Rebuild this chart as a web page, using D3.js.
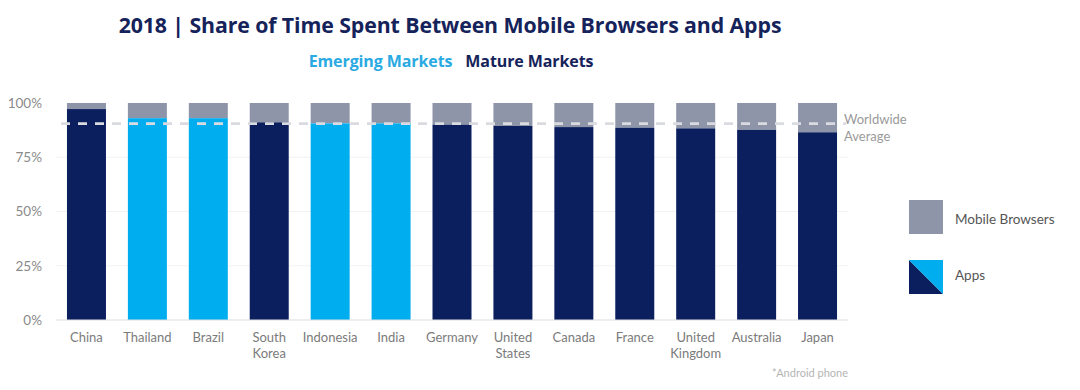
<!DOCTYPE html>
<html><head><meta charset="utf-8">
<script src="https://cdn.jsdelivr.net/npm/d3@7"></script>
<style>body{margin:0;background:#fff;}svg{display:block;font-family:Lato,"Open Sans",sans-serif;}</style>
</head><body><svg id="c" width="1080" height="390"></svg>
<script>
const categories = ["China","Thailand","Brazil","South Korea","Indonesia","India","Germany","United States","Canada","France","United Kingdom","Australia","Japan"];
const categoryLines = [["China"],["Thailand"],["Brazil"],["South","Korea"],["Indonesia"],["India"],["Germany"],["United","States"],["Canada"],["France"],["United","Kingdom"],["Australia"],["Japan"]];
const appsShare = [97.2, 93.0, 93.0, 91.1, 90.6, 90.6, 90.0, 89.4, 88.9, 88.6, 88.3, 87.6, 86.5];
const browserShare = [2.8, 7.0, 7.0, 8.9, 9.4, 9.4, 10.0, 10.6, 11.1, 11.4, 11.7, 12.4, 13.5];
const marketType = ["mature","emerging","emerging","mature","emerging","emerging","mature","mature","mature","mature","mature","mature","mature"];
const worldwideAverage = 90.5;
const yTicks = [0, 25, 50, 75, 100];

const NAVY = "#0b1f5e", BLUE = "#00adef", GRAY = "#8f95a9";
const svg = d3.select("#c");
const x = d3.scaleBand().domain(categories).range([56, 848]).paddingInner(0.36).paddingOuter(0.18);
const y = d3.scaleLinear().domain([0, 100]).range([320, 103]);

// title
svg.append("text").attr("x", 450).attr("y", 33).attr("text-anchor", "middle")
  .attr("font-family", "'Open Sans',sans-serif")
  .attr("font-size", 21.3).attr("font-weight", 700).attr("fill", "#15235a").attr("letter-spacing", -0.1)
  .text("2018 | Share of Time Spent Between Mobile Browsers and Apps");
const sub = svg.append("text").attr("x", 451).attr("y", 67).attr("text-anchor", "middle")
  .attr("font-family", "'Open Sans',sans-serif")
  .attr("font-size", 16).attr("font-weight", 700).attr("letter-spacing", -0.1);
sub.append("tspan").attr("fill", "#2aaae2").text("Emerging Markets");
sub.append("tspan").attr("fill", "#15235a").attr("dx", 13).text("Mature Markets");

// gridlines
svg.append("g").selectAll("line").data(yTicks.filter(t => t > 0 && t < 100)).join("line")
  .attr("x1", 56).attr("x2", 848).attr("y1", d => y(d)).attr("y2", d => y(d))
  .attr("stroke", "#f1f2f4").attr("stroke-width", 1);

// y axis
const yAxis = d3.axisLeft(y).tickValues(yTicks).tickFormat(d => d + "%").tickSize(0).tickPadding(14);
const ya = svg.append("g").attr("transform", "translate(56,0)").call(yAxis);
ya.select(".domain").remove();
ya.selectAll("text").attr("font-size", 13.5).attr("fill", "#8a8a8a").attr("font-family", "Lato,sans-serif");

// bars
const g = svg.append("g");
g.selectAll("rect.b").data(categories).join("rect").attr("class", "b")
  .attr("x", d => x(d)).attr("width", x.bandwidth())
  .attr("y", (d, i) => y(appsShare[i] + browserShare[i]))
  .attr("height", (d, i) => y(appsShare[i]) - y(appsShare[i] + browserShare[i]))
  .attr("fill", GRAY);
g.selectAll("rect.a").data(categories).join("rect").attr("class", "a")
  .attr("x", d => x(d)).attr("width", x.bandwidth())
  .attr("y", (d, i) => y(appsShare[i]))
  .attr("height", (d, i) => y(0) - y(appsShare[i]))
  .attr("fill", (d, i) => marketType[i] === "emerging" ? BLUE : NAVY);

// baseline
svg.append("line").attr("x1", 56).attr("x2", 848).attr("y1", y(0)).attr("y2", y(0))
  .attr("stroke", "#dcdde0").attr("stroke-width", 1.2);

// worldwide average
svg.append("line").attr("x1", 58).attr("x2", 846).attr("y1", y(worldwideAverage)).attr("y2", y(worldwideAverage))
  .attr("stroke", "#d9dbe1").attr("stroke-width", 2.6).attr("stroke-dasharray", "9,8").attr("stroke-dashoffset", -3);
svg.append("text").attr("x", 844).attr("y", 124).attr("font-size", 13).attr("fill", "#9a9a9a").text("Worldwide");
svg.append("text").attr("x", 844).attr("y", 141).attr("font-size", 13).attr("fill", "#9a9a9a").text("Average");

// category labels
const xl = svg.append("g");
categories.forEach((c, i) => {
  const t = xl.append("text").attr("x", x(c) + x.bandwidth() / 2).attr("y", 342)
    .attr("text-anchor", "middle").attr("font-size", 13).attr("fill", "#7b7b7b");
  categoryLines[i].forEach((ln, j) => t.append("tspan").attr("x", x(c) + x.bandwidth() / 2).attr("dy", j ? 16 : 0).text(ln));
});

// legend
svg.append("rect").attr("x", 909).attr("y", 200).attr("width", 34).attr("height", 34).attr("fill", GRAY);
svg.append("text").attr("x", 955).attr("y", 224).attr("font-size", 13.5).attr("fill", "#555").text("Mobile Browsers");
svg.append("path").attr("d", "M909,260 L943,294 L909,294 Z").attr("fill", NAVY);
svg.append("path").attr("d", "M909,260 L943,260 L943,294 Z").attr("fill", BLUE);
svg.append("text").attr("x", 955).attr("y", 280).attr("font-size", 13.5).attr("fill", "#555").text("Apps");

// footnote
svg.append("text").attr("x", 848).attr("y", 377).attr("text-anchor", "end").attr("font-size", 11).attr("fill", "#b5b5b5").text("*Android phone");
</script></body></html>
